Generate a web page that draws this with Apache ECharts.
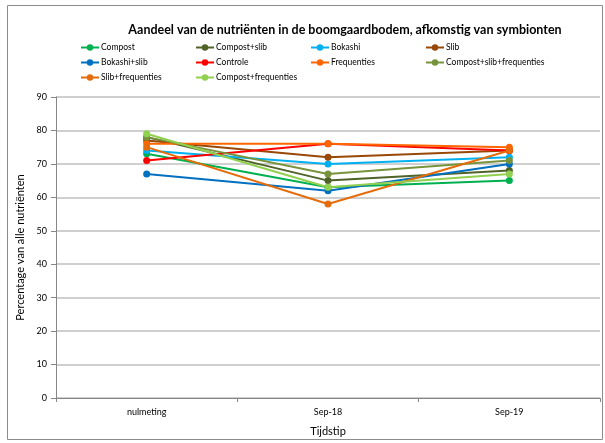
<!DOCTYPE html>
<html>
<head>
<meta charset="utf-8">
<script src="https://cdn.jsdelivr.net/npm/echarts@6/dist/echarts.min.js"></script>
<style>
  html, body { margin: 0; padding: 0; background: #fff; }
  #chart { width: 605px; height: 443px; }
</style>
</head>
<body>
<div id="chart"></div>
<script>
// Meetmomenten en aandelen (%) per behandeling
const categories = ['nulmeting', 'Sep-18', 'Sep-19'];
const seriesNames = ['Compost', 'Compost+slib', 'Bokashi', 'Slib', 'Bokashi+slib', 'Controle',
  'Frequenties', 'Compost+slib+frequenties', 'Slib+frequenties', 'Compost+frequenties'];
const compost = [73, 63, 65];
const compostSlib = [78, 65, 68];
const bokashi = [74, 70, 72];
const slib = [77, 72, 74];
const bokashiSlib = [67, 62, 70];
const controle = [71, 76, 74];
const frequenties = [76, 76, 75];
const compostSlibFreq = [78, 67, 71];
const slibFreq = [75, 58, 74];
const compostFreq = [79, 63, 67];
const yTicks = [0, 10, 20, 30, 40, 50, 60, 70, 80, 90];

const seriesValues = [compost, compostSlib, bokashi, slib, bokashiSlib, controle,
  frequenties, compostSlibFreq, slibFreq, compostFreq];
const colors = ['#00B050', '#4F6228', '#00B0F0', '#984807', '#0070C0', '#FF0000',
  '#FF6600', '#77933C', '#E46C0A', '#92D050'];

const FONT = 'Lato, "Liberation Sans", sans-serif';

// legend laid out in a 4-column grid
const colX = [80, 195, 310, 425];
const rowY = [43, 58, 73];
const legends = seriesNames.map((name, i) => ({
  left: colX[i % 4],
  top: rowY[Math.floor(i / 4)],
  data: [name],
  itemWidth: 18,
  itemHeight: 8,
  itemGap: 0,
  padding: 0,
  textStyle: { fontFamily: FONT, fontSize: 8.5, color: '#000', padding: [0, 0, 0, -3] }
}));

const chart = echarts.init(document.getElementById('chart'));
chart.setOption({
  animation: false,
  color: colors,
  textStyle: { fontFamily: FONT },
  title: {
    text: 'Aandeel van de nutriënten in de boomgaardbodem, afkomstig van symbionten',
    left: 340, top: 18, textAlign: 'center',
    textStyle: { fontFamily: FONT, fontSize: 12.5, fontWeight: 'bold', color: '#000' }
  },
  graphic: [{
    type: 'rect', shape: { x: 7.5, y: 5.5, width: 595, height: 434 },
    style: { fill: 'none', stroke: '#8C8C8C', lineWidth: 1 }, silent: true, z: -1
  }],
  legend: legends,
  grid: { left: 56, right: 5, top: 97, bottom: 45 },
  xAxis: {
    type: 'category',
    data: categories,
    boundaryGap: true,
    name: 'Tijdstip',
    nameLocation: 'middle',
    nameGap: 28,
    nameTextStyle: { fontFamily: FONT, fontSize: 11, color: '#000' },
    axisLine: { lineStyle: { color: '#868686', width: 1 } },
    axisTick: { show: true, length: 4, lineStyle: { color: '#868686' } },
    axisLabel: { fontFamily: FONT, fontSize: 9, color: '#000', margin: 10 }
  },
  yAxis: {
    type: 'value',
    min: yTicks[0],
    max: yTicks[yTicks.length - 1],
    interval: 10,
    name: 'Percentage van alle nutriënten',
    nameLocation: 'middle',
    nameGap: 22,
    nameTextStyle: { fontFamily: FONT, fontSize: 11, color: '#000' },
    axisLine: { show: true, lineStyle: { color: '#868686', width: 1 } },
    axisTick: { show: true, length: 5, lineStyle: { color: '#868686' } },
    axisLabel: { fontFamily: FONT, fontSize: 9, color: '#000', margin: 9 },
    splitLine: { lineStyle: { color: '#BFBFBF', width: 1.5 } }
  },
  series: seriesNames.map((name, i) => ({
    name: name,
    type: 'line',
    data: seriesValues[i],
    symbol: 'circle',
    symbolSize: 7,
    lineStyle: { width: 2 },
    itemStyle: { color: colors[i] }
  }))
});
</script>
</body>
</html>
